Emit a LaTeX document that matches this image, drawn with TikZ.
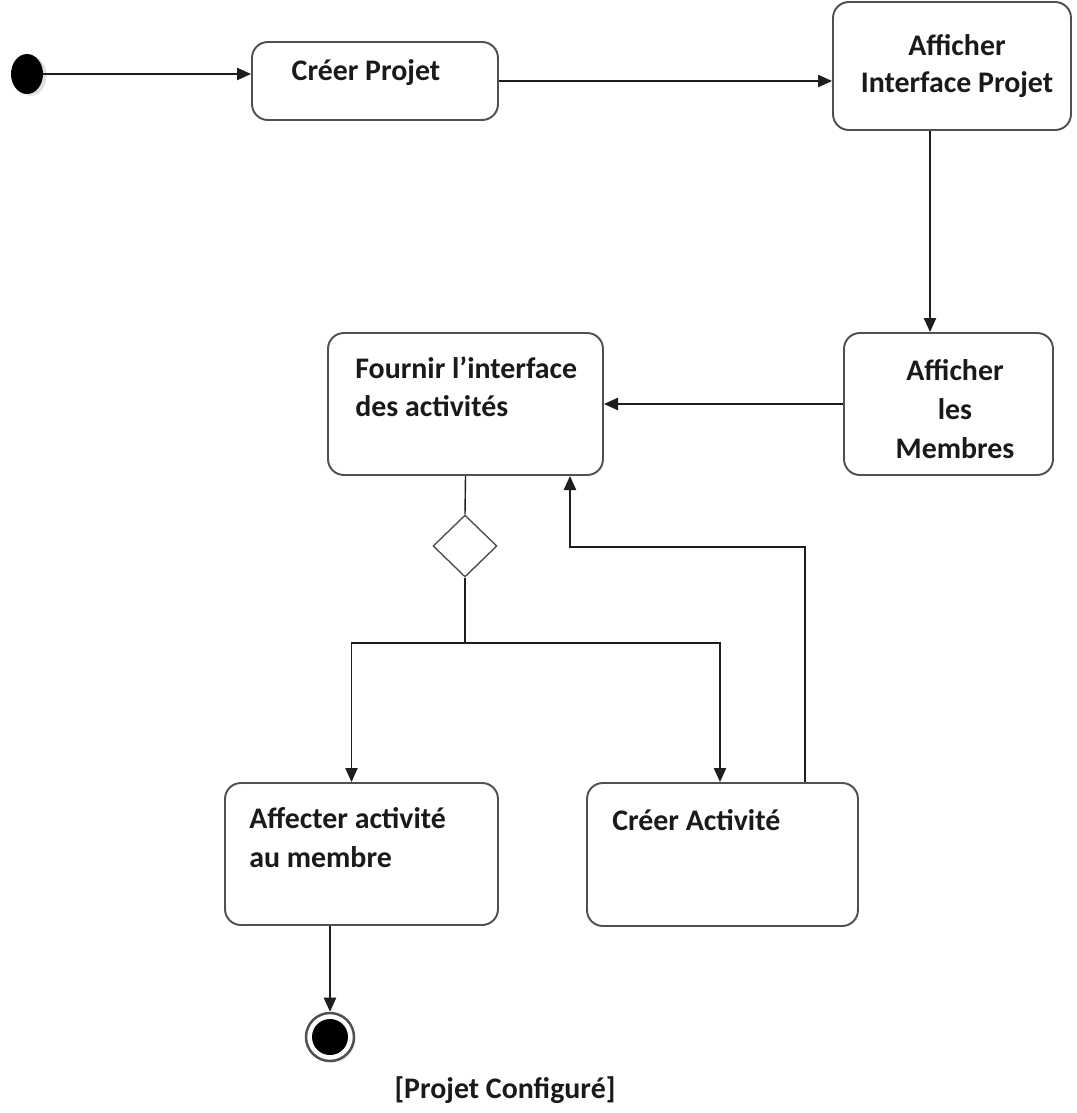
\documentclass[tikz,border=0pt]{standalone}
\usepackage{fontspec}
\setmainfont{Carlito}
\usepackage{xcolor}
\usetikzlibrary{arrows.meta,shapes.geometric,positioning,shadows}

\begin{document}
\begin{tikzpicture}[x=0.02cm, y=-0.02cm,
    every node/.style={font=\fontsize{17}{22}\selectfont\bfseries, text=textColor},
    state/.style={draw=stateBorder, line width=1.1pt, rounded corners=9pt, fill=white, inner sep=0pt},
    txt/.style={inner sep=0pt},
    flow/.style={draw=flowColor, line width=0.8pt, -{Triangle[length=8pt, width=7pt]}},
    link/.style={draw=flowColor, line width=0.8pt}]
    % Palette
    \definecolor{stateBorder}{HTML}{505050}
    \definecolor{flowColor}{HTML}{1E1E1E}
    \definecolor{textColor}{HTML}{1A1A1A}

    \useasboundingbox (0,0) rectangle (1076,1113);

    % --- Start / End ---
    \node[ellipse, fill=black, minimum width=0.64cm, minimum height=0.8cm, inner sep=0pt,
          drop shadow={opacity=0.25, shadow xshift=2pt, shadow yshift=-1pt}] (start) at (27,74) {};
    \node[circle, draw=stateBorder, line width=1.4pt, fill=white, minimum size=0.96cm, inner sep=0pt,
          drop shadow={opacity=0.2, shadow xshift=1pt, shadow yshift=-1pt}] (stop) at (330,1037) {};
    \fill[black] (stop) circle (0.36cm);

    % --- States ---
    \node[state, minimum width=4.92cm, minimum height=1.56cm] (creer) at (375,81) {};
    \node[state, minimum width=4.76cm, minimum height=2.56cm] (afficherInt) at (952,66) {};
    \node[state, minimum width=4.18cm, minimum height=2.84cm] (membres) at (948.5,404) {};
    \node[state, minimum width=5.5cm, minimum height=2.84cm] (fournir) at (465.5,404) {};
    \node[state, minimum width=5.46cm, minimum height=2.84cm] (affecter) at (361.5,854) {};
    \node[state, minimum width=5.42cm, minimum height=2.86cm] (creerAct) at (722.5,854.5) {};

    % Decision
    \node[diamond, draw=stateBorder, line width=0.8pt, minimum width=1.28cm, minimum height=1.24cm,
          inner sep=0pt] (decision) at (465,546) {};

    % --- Labels ---
    \node[txt] (creerT) at (366,73) {Créer Projet};
    \node[txt, align=center] (afficherIntT) at (957,66) {Afficher\\[-1pt]Interface Projet};
    \node[txt, align=center] (membresT) at (955,409) {Afficher\\les\\Membres};
    \node[txt, align=left, anchor=north west] (fournirT) at (355,356) {Fournir l’interface\\des  activités};
    \node[txt, align=left, anchor=north west] (affecterT) at (249,807) {Affecter activité\\au membre};
    \node[txt, anchor=west] (creerActT) at (612,820) {Créer Activité};
    \node[txt] (configT) at (505,1090) {[Projet Configuré]};

    % --- Transitions ---
    \draw[flow] (start) -- (start -| creer.west);
    \draw[flow] (creer.east) -- (creer.east -| afficherInt.west);
    \draw[flow] ([xshift=-0.44cm]afficherInt.south) -- ([xshift=-0.44cm]afficherInt.south |- membres.north);
    \draw[flow] (membres.west) -- (fournir.east);
    \draw[link] (fournir.south) -- (decision.north);
    \coordinate (split) at (465,643);
    \draw[link] (decision.south) -- (split);
    \draw[flow] (split) -| ([xshift=-0.2cm]affecter.north);
    \draw[flow] (split) -| ([xshift=-0.05cm]creerAct.north);
    \draw[flow] ([xshift=1.65cm]creerAct.north) -- ++(0,-235) -| ([xshift=2.09cm]fournir.south);
    \draw[flow] (affecter.south -| stop) -- (stop.north);

\end{tikzpicture}
\end{document}
